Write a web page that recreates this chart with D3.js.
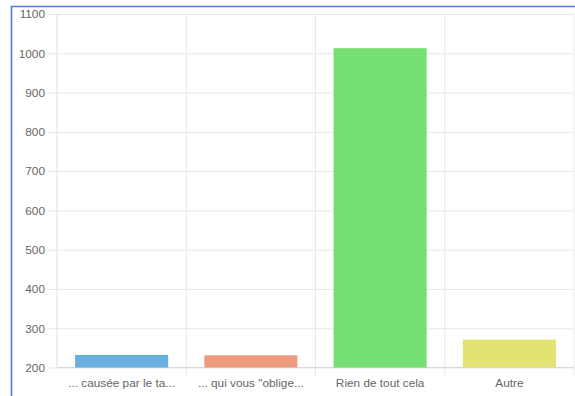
<!DOCTYPE html>
<html><head><meta charset="utf-8">
<script src="https://cdn.jsdelivr.net/npm/d3@7"></script>
<style>
html,body{margin:0;padding:0;background:#fff;}
svg{display:block;}
</style></head>
<body>
<svg id="c" width="575" height="396"></svg>
<script>
const categories = ["... causée par le ta...", "... qui vous \"oblige...", "Rien de tout cela", "Autre"];
const values = [232, 231, 1013, 271];
const colors = ["#6aafdf", "#ee9b7d", "#76df72", "#e3e373"];
const yTicks = [200, 300, 400, 500, 600, 700, 800, 900, 1000, 1100];

const svg = d3.select("#c");
const m = {left: 57, right: 574, top: 14, bottom: 367.5};
const font = "'Liberation Sans', Arial, Helvetica, sans-serif";

const x = d3.scaleBand().domain(categories).range([m.left, m.right]).paddingInner(0).paddingOuter(0);
const y = d3.scaleLinear().domain([200, 1100]).range([m.bottom, m.top]);

// border of screenshot
svg.append("path")
  .attr("d", `M11.5,396 L11.5,6.5 L575,6.5`)
  .attr("fill", "none").attr("stroke", "#4a7bd6").attr("stroke-width", 1.6);

// horizontal grid
const gy = svg.append("g").attr("transform", `translate(${m.left},0)`)
  .call(d3.axisLeft(y).tickValues(yTicks).tickFormat(d3.format("d")).tickSize(-(m.right - m.left)).tickSizeOuter(0).tickPadding(12));
gy.select(".domain").remove();
gy.selectAll(".tick line").attr("stroke", "#e8e8e8").attr("x1", -9);
gy.selectAll(".tick text").attr("fill", "#666").style("font-family", font).style("font-size", "11.8px");

// vertical grid lines (category boundaries)
const bounds = categories.map(c => x(c)).concat([m.right]);
svg.append("g").selectAll("line").data(bounds.slice(1)).join("line")
  .attr("x1", d => d).attr("x2", d => d)
  .attr("y1", m.top).attr("y2", m.bottom + 9)
  .attr("stroke", "#e8e8e8");

// y axis line
svg.append("line").attr("x1", m.left).attr("x2", m.left)
  .attr("y1", m.top).attr("y2", m.bottom).attr("stroke", "#dedede");

// x axis
const gx = svg.append("g").attr("transform", `translate(0,${m.bottom})`)
  .call(d3.axisBottom(x).tickSize(0).tickPadding(11));
gx.select(".domain").attr("stroke", "#d8d8d8").attr("d", `M${m.left},0H${m.right}`);
gx.selectAll(".tick text").attr("fill", "#666").style("font-family", font).style("font-size", "11.8px");

// bars
const bw = x.bandwidth() * 0.72;
svg.append("g").selectAll("rect").data(values).join("rect")
  .attr("x", (d, i) => x(categories[i]) + (x.bandwidth() - bw) / 2)
  .attr("width", bw)
  .attr("y", d => y(d))
  .attr("height", d => y(200) - y(d))
  .attr("fill", (d, i) => colors[i]);
</script>
</body></html>
